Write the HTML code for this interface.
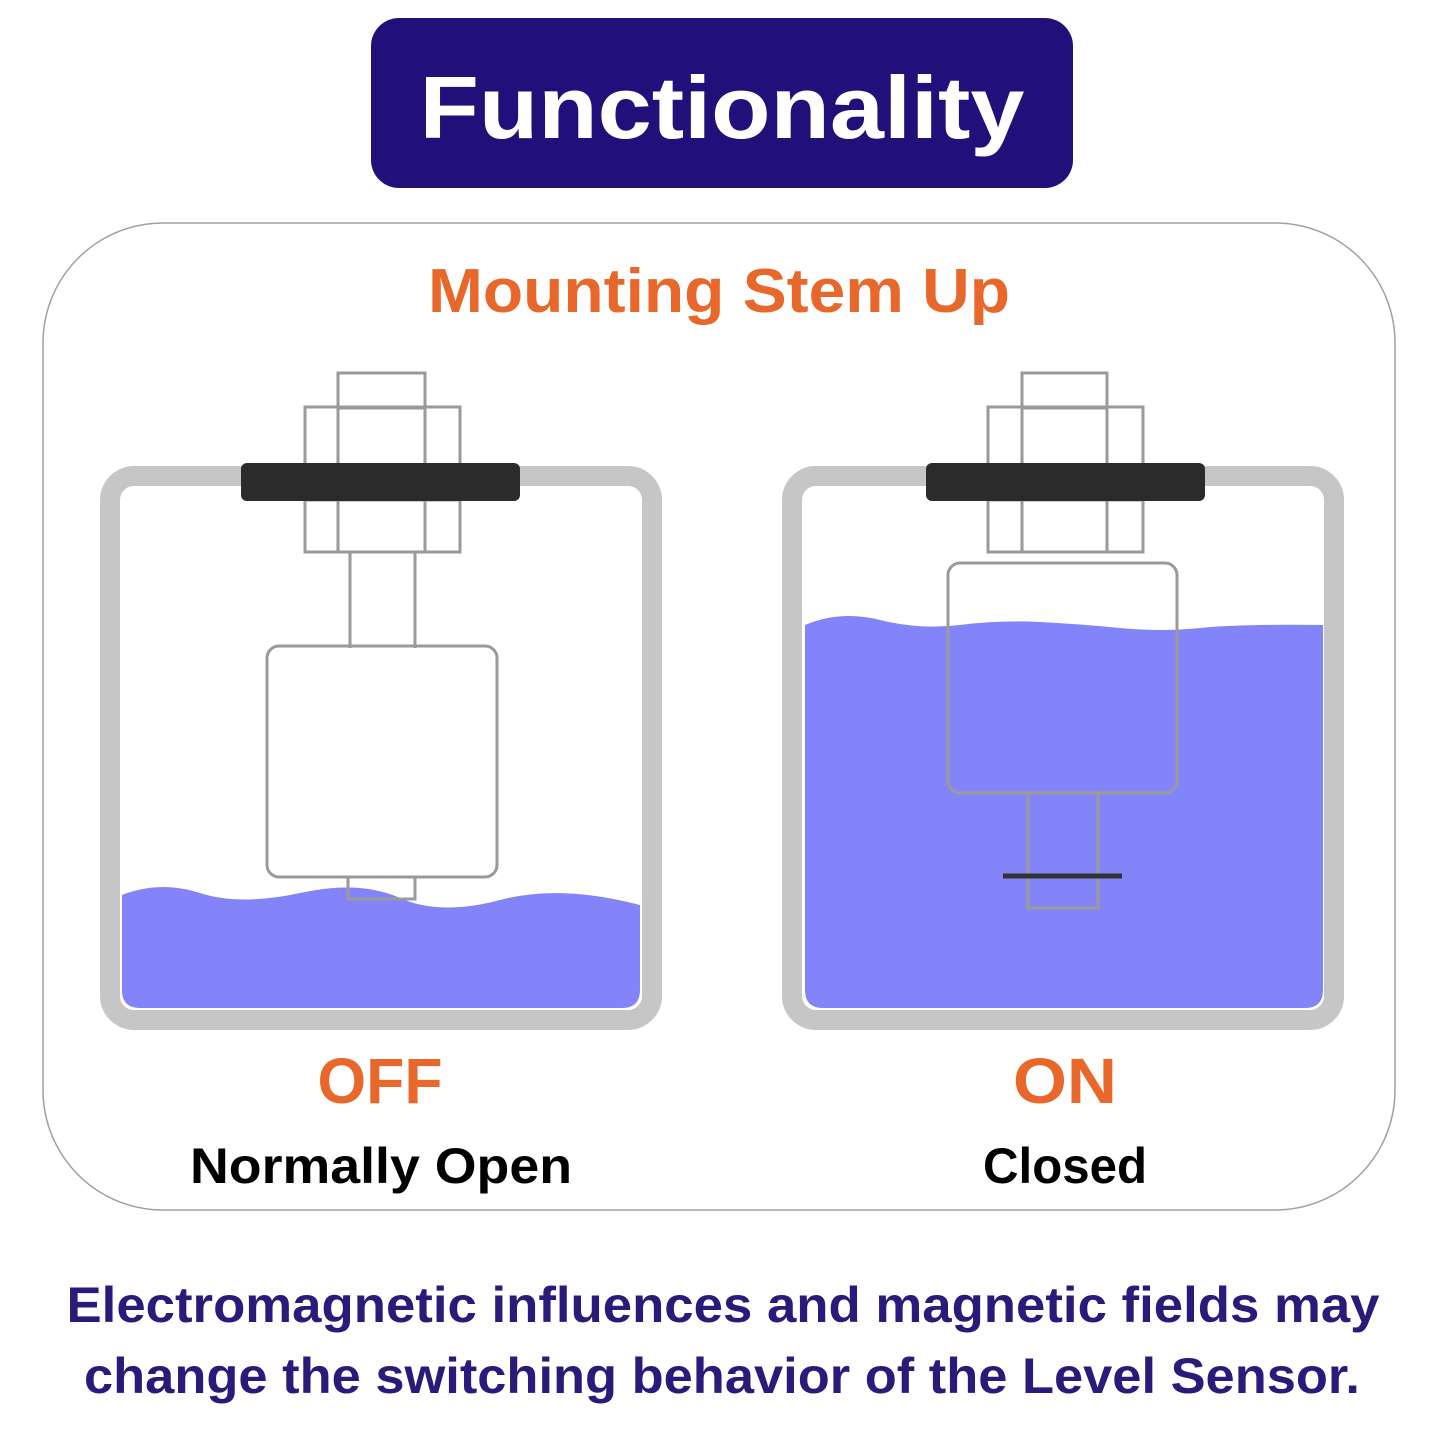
<!DOCTYPE html>
<html><head><style>html,body{margin:0;padding:0;background:#fff}svg{display:block}</style></head>
<body>
<svg width="1445" height="1445" viewBox="0 0 1445 1445" xmlns="http://www.w3.org/2000/svg" font-family="'Liberation Sans',sans-serif" font-weight="bold">
<rect x="371" y="18" width="702" height="170" rx="28" fill="#22107a"/>
<text x="722" y="138" font-size="88" fill="#fff" text-anchor="middle" textLength="605" lengthAdjust="spacingAndGlyphs">Functionality</text>
<rect x="43" y="223" width="1352" height="987" rx="120" fill="#fff" stroke="#a0a0a0" stroke-width="1.5"/>
<text x="719" y="312" font-size="62" fill="#e8672a" text-anchor="middle" textLength="582" lengthAdjust="spacingAndGlyphs">Mounting Stem Up</text>

<g fill="none" stroke="#9a9a9a" stroke-width="3">
<!-- left tank -->
<path d="M122 895 Q160 880 200 893 T300 893 T400 898 T500 900 T640 905 L640 990 Q640 1008 622 1008 L140 1008 Q122 1008 122 990 Z" fill="#8484fa" stroke="none"/>
<rect x="110" y="476" width="542" height="544" rx="24" stroke="#c6c6c6" stroke-width="20"/>
<rect x="338" y="373" width="87" height="35"/>
<rect x="305" y="407" width="155" height="58"/>
<rect x="305" y="500" width="155" height="52"/>
<line x1="338" y1="407" x2="338" y2="552"/><line x1="425" y1="407" x2="425" y2="552"/>
<line x1="350" y1="552" x2="350" y2="648"/><line x1="415" y1="552" x2="415" y2="648"/>
<rect x="267" y="646" width="230" height="231" rx="12"/>
<rect x="348" y="877" width="67" height="22"/>
<rect x="241" y="463" width="279" height="38" rx="6" fill="#2b2b2b" stroke="none"/>

<!-- right tank -->
<path d="M805 625 Q840 610 880 620 T960 625 T1040 622 T1120 628 T1200 628 T1323 625 L1323 990 Q1323 1008 1305 1008 L823 1008 Q805 1008 805 990 Z" fill="#8484fa" stroke="none"/>
<rect x="792" y="476" width="542" height="544" rx="24" stroke="#c6c6c6" stroke-width="20"/>
<rect x="1022" y="373" width="85" height="35"/>
<rect x="988" y="407" width="155" height="58"/>
<rect x="988" y="500" width="155" height="52"/>
<line x1="1022" y1="407" x2="1022" y2="552"/><line x1="1107" y1="407" x2="1107" y2="552"/>
<rect x="948" y="563" width="229" height="230" rx="12"/>
<rect x="1028" y="793" width="70" height="115"/>
<line x1="1003" y1="876" x2="1122" y2="876" stroke="#333" stroke-width="5"/>
<rect x="926" y="463" width="279" height="38" rx="6" fill="#2b2b2b" stroke="none"/>
</g>

<text x="380" y="1103" font-size="64" fill="#e8672a" text-anchor="middle" textLength="125" lengthAdjust="spacingAndGlyphs">OFF</text>
<text x="1065" y="1103" font-size="64" fill="#e8672a" text-anchor="middle" textLength="104" lengthAdjust="spacingAndGlyphs">ON</text>
<text x="381" y="1183" font-size="50" fill="#000" text-anchor="middle" textLength="382" lengthAdjust="spacingAndGlyphs">Normally Open</text>
<text x="1065" y="1183" font-size="50" fill="#000" text-anchor="middle" textLength="164" lengthAdjust="spacingAndGlyphs">Closed</text>
<text x="723" y="1322" font-size="50" fill="#2a1a7a" text-anchor="middle" textLength="1313" lengthAdjust="spacingAndGlyphs">Electromagnetic influences and magnetic fields may</text>
<text x="722" y="1393" font-size="50" fill="#2a1a7a" text-anchor="middle" textLength="1276" lengthAdjust="spacingAndGlyphs">change the switching behavior of the Level Sensor.</text>
</svg>
</body></html>
